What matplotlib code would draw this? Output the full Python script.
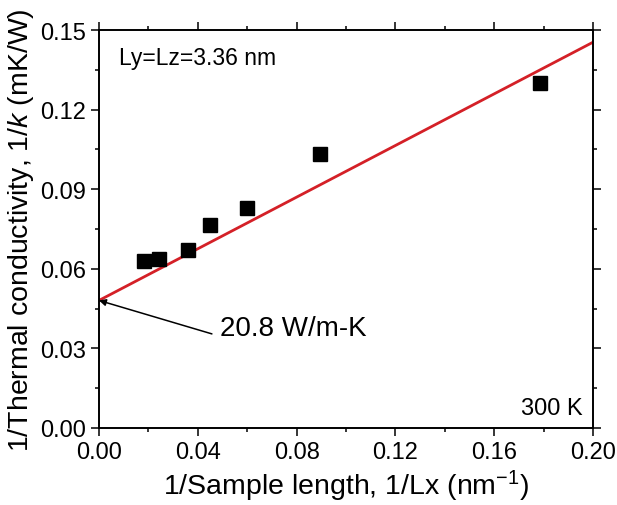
import matplotlib
matplotlib.use("Agg")
import matplotlib.pyplot as plt
import numpy as np

plt.rcParams['font.family'] = ['Liberation Sans', 'DejaVu Sans']
plt.rcParams['mathtext.fontset'] = 'custom'
plt.rcParams['mathtext.rm'] = 'Liberation Sans'
plt.rcParams['mathtext.it'] = 'Liberation Sans:italic'

inv_length = [0.0183, 0.0243, 0.0362, 0.0451, 0.0598, 0.0895, 0.1785]
inv_k = [0.0628, 0.0637, 0.0670, 0.0765, 0.0830, 0.1032, 0.1299]
fit_intercept = 1 / 20.8
fit_slope = 0.4866
fit_x = [0.0, 0.2]

fig = plt.figure(figsize=(6.17, 5.06), dpi=100)
ax = fig.add_axes([99 / 617, 77 / 506, 494 / 617, 398 / 506])

fx = np.array(fit_x)
ax.plot(fx, fit_intercept + fit_slope * fx, color='#d42027', lw=2, zorder=2)
ax.plot(inv_length, inv_k, 's', color='black', ms=10.7, zorder=3)

ax.set_xlim(0, 0.2)
ax.set_ylim(0, 0.15)
ax.set_xticks(np.arange(0, 0.201, 0.04))
ax.set_yticks(np.arange(0, 0.151, 0.03))
ax.set_xticks(np.arange(0.02, 0.2, 0.04), minor=True)
ax.set_yticks(np.arange(0.015, 0.15, 0.03), minor=True)
ax.xaxis.set_major_formatter(matplotlib.ticker.FormatStrFormatter('%.2f'))
ax.yaxis.set_major_formatter(matplotlib.ticker.FormatStrFormatter('%.2f'))
ax.tick_params(which='both', direction='out', top=True, right=True, labelsize=17, width=1.1)
ax.tick_params(which='major', length=5.5, pad=4)
ax.tick_params(which='minor', length=3)
for s in ax.spines.values():
    s.set_linewidth(1.4)

ax.set_xlabel('1/Sample length, 1/Lx (nm$^{\\mathrm{-1}}$)', fontsize=20.5, labelpad=3)
ax.set_ylabel('1/Thermal conductivity, 1/$k$ (mK/W)', fontsize=20.5, labelpad=3)

ax.text(0.008, 0.1398, 'Ly=Lz=3.36 nm', fontsize=16.5, va='center', ha='left')
ax.text(0.196, 0.0075, '300 K', fontsize=17, va='center', ha='right')

ax.annotate('20.8 W/m-K', xy=(0.0, fit_intercept), xytext=(0.0490, 0.0375),
            fontsize=20, ha='left', va='center',
            arrowprops=dict(arrowstyle='-|>', color='black', lw=1.1,
                            mutation_scale=10, relpos=(0, 0.2), shrinkA=4, shrinkB=0))

fig.savefig('out.png', dpi=100)
